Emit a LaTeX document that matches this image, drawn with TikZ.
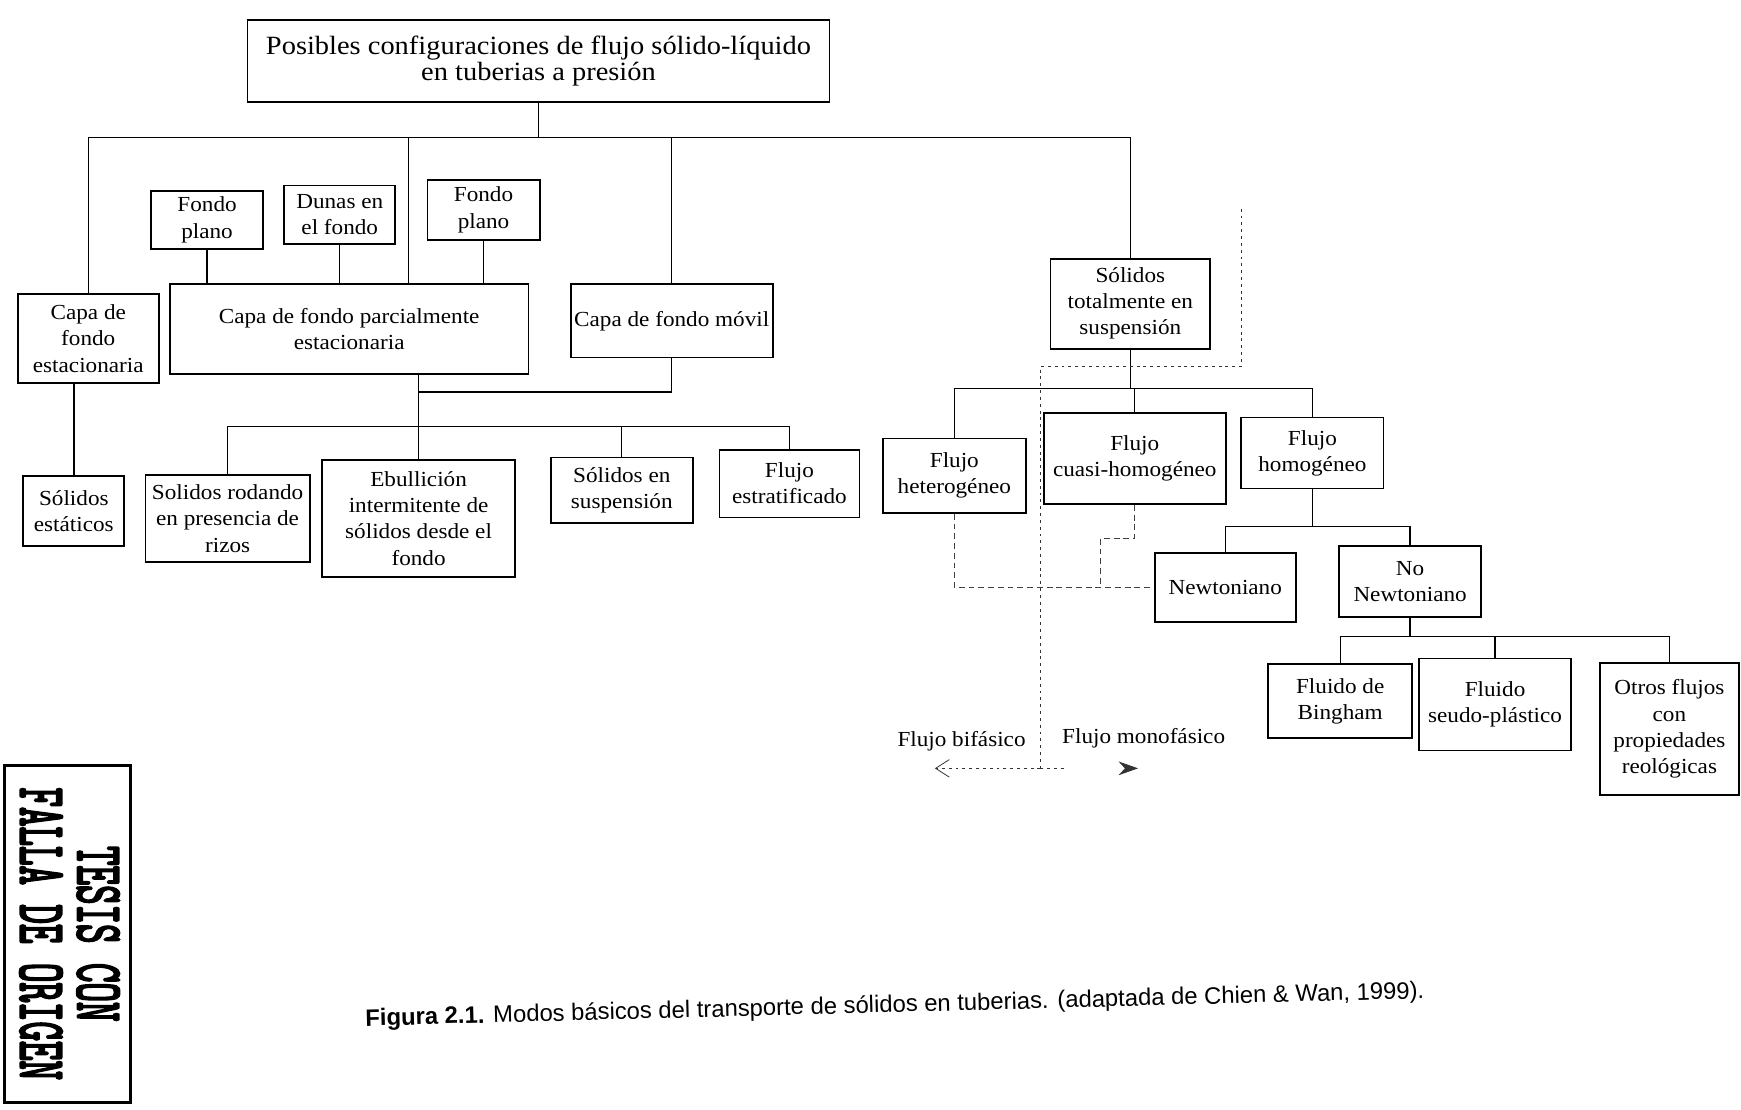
\documentclass[tikz,border=0pt]{standalone}
\usepackage{fontspec}
\usepackage{graphicx}
\setmainfont{Liberation Serif}[FakeStretch=1.08]
\newfontfamily\capfont{Liberation Sans}
\newfontfamily\stampfont{lmmono10-regular.otf}[FakeBold=4]
\usetikzlibrary{arrows.meta}

\begin{document}
\begin{tikzpicture}[x=0.02cm, y=-0.02cm, line width=0.7pt, >=Stealth,
  box/.style={draw, line width=0.9pt, align=center, inner sep=1pt,
    font=\fontsize{11}{13.4}\selectfont},
  bsize/.style 2 args={minimum width=#1*0.02cm, minimum height=#2*0.02cm},
  faint/.style={thin, densely dashed, black!75},
  sep/.style={thin, dash pattern=on 1.5pt off 2pt, black!80},
  sepgap/.style={thin, black!80,
    dash pattern=on 1.5pt off 2pt on 1.5pt off 2pt on 1.5pt off 2pt on 1.5pt off 60pt},
  lbl/.style={font=\fontsize{11}{13}\selectfont, inner sep=1pt}]
  \useasboundingbox (0,0) rectangle (1568,999);

  \node[box, bsize={524}{74}, font=\fontsize{13.5}{13.5}\selectfont] (title) at (485,55)
    {Posibles configuraciones de flujo sólido-líquido\\en tuberias a presión};

  \node[box, bsize={101}{52}] (fp1) at (186.5,198) {Fondo\\plano};
  \node[box, bsize={100}{53}] (dunas) at (306,193.5) {Dunas en\\el fondo};
  \node[box, bsize={101}{54}] (fp2) at (435.5,189) {Fondo\\plano};
  \node[box, bsize={127}{80}] (estac) at (79.5,305) {Capa de\\fondo\\estacionaria};
  \node[box, bsize={323}{81}] (parcial) at (314.5,296.5) {Capa de fondo parcialmente\\estacionaria};
  \node[box, bsize={182}{66}] (movil) at (605,289) {Capa de fondo móvil};
  \node[box, bsize={144}{81}] (totsusp) at (1018,273.5) {Sólidos\\totalmente en\\suspensión};

  \node[box, bsize={91}{63}] (estat) at (66.5,460.5) {Sólidos\\estáticos};
  \node[box, bsize={148}{78}] (rodando) at (205,467) {Solidos rodando\\en presencia de\\rizos};
  \node[box, bsize={174}{106}] (ebull) at (377,467) {Ebullición\\intermitente de\\sólidos desde el\\fondo};
  \node[box, bsize={128}{59}] (ensusp) at (560,441.5) {Sólidos en\\suspensión};
  \node[box, bsize={126}{61}] (estrat) at (711,435.5) {Flujo\\estratificado};

  \node[box, bsize={129}{67}] (hetero) at (859.5,428.5) {Flujo\\heterogéneo};
  \node[box, bsize={164}{82}] (cuasi) at (1022,413) {Flujo\\cuasi-homogéneo};
  \node[box, bsize={128}{64}] (homog) at (1182,408) {Flujo\\homogéneo};
  \node[box, bsize={127}{62}] (newt) at (1103.5,529) {Newtoniano};
  \node[box, bsize={128}{64}] (nonewt) at (1270,524) {No\\Newtoniano};
  \node[box, bsize={130}{67}] (bingham) at (1207,631.5) {Fluido de\\Bingham};
  \node[box, bsize={137}{83}] (seudo) at (1346.5,634.5) {Fluido\\seudo-plástico};
  \node[box, bsize={125}{119}] (otros) at (1503.5,656.5) {Otros flujos\\con\\propiedades\\reológicas};

  \coordinate (jA) at (485,124);
  \coordinate (jP) at (368,124);
  \coordinate (jB) at (377,353);
  \coordinate (jC) at (377,384);
  \coordinate (jD) at (1018,350);
  \coordinate (jE) at (1182,474);
  \coordinate (jF) at (1270,573);

  \draw (title) -- (jA);
  \foreach \c in {estac,movil,totsusp}
    \draw (jA) -| (\c.north);
  \draw (jA) -| (parcial.north -| jP);
  \foreach \c in {fp1,dunas,fp2}
    \draw (\c) -- (\c |- parcial.north);
  \draw (estac.south -| estat.north) -- (estat);
  \draw (parcial.south -| jB) -- (ebull);
  \draw (movil) |- (jB);
  \foreach \c in {rodando,ensusp,estrat}
    \draw (jC) -| (\c.north);
  \draw (totsusp) -- (jD);
  \foreach \c in {hetero,cuasi,homog}
    \draw (jD) -| (\c.north);
  \draw (homog) -- (jE);
  \foreach \c in {newt,nonewt}
    \draw (jE) -| (\c.north);
  \draw (nonewt) -- (jF);
  \foreach \c in {bingham,seudo,otros}
    \draw (jF) -| (\c.north);

  \coordinate (kq) at (991,485);
  \draw[faint] (hetero) |- (newt);
  \draw[faint] (cuasi) |- (kq) -- (kq |- newt.west);

  \coordinate (s1) at (1118,188);
  \coordinate (s2) at (937,330);
  \coordinate (s3) at (937,692);
  \coordinate (bif) at (842,692);
  \coordinate (mono) at (1025,692);
  \draw[sep] (s1) |- (s2) -- (s3);
  \draw[sep, -{Straight Barb[length=7pt,width=9pt]}] (s3) -- (bif);
  \draw[sepgap, -{Stealth[length=10pt,width=7pt]}] (s3) -- (mono);
  \node[lbl] (lbif) at (866,668) {Flujo bifásico};
  \node[lbl] (lmono) at (1030,665) {Flujo monofásico};

  \node[font=\capfont\fontsize{12.2}{14}\selectfont, rotate=1.5] (caption) at (806,906)
    {\textbf{Figura 2.1.} Modos básicos del transporte de sólidos en tuberias. (adaptada de Chien \& Wan, 1999).};

  \node[draw, line width=1.5pt, rotate=-90, minimum width=6.08cm, minimum height=2.2cm,
    inner sep=0pt, font=\stampfont\fontsize{34}{27}\selectfont] (sello) at (61,841)
    {\scalebox{0.56}[1]{\begin{tabular}{@{}c@{}}\rule{0pt}{27pt}TESIS CON\\FALLA DE ORIGEN\end{tabular}}};
\end{tikzpicture}
\end{document}
